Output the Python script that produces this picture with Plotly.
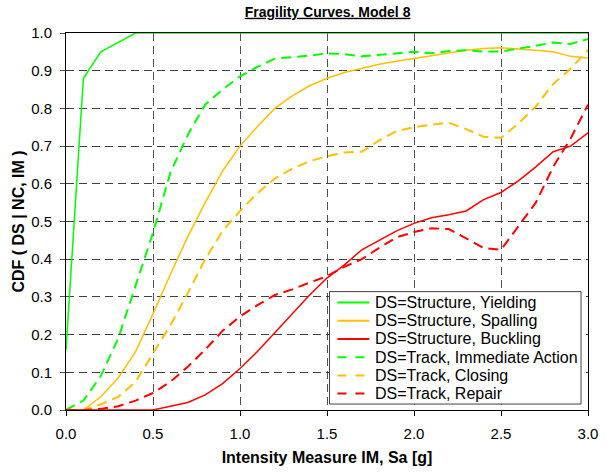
import plotly.graph_objects as go

im = [round(i * 0.1, 1) for i in range(31)]

yielding = [0.16, 0.88, 0.95, 0.975, 1.0] + [1.0] * 26
spalling = [0.0, 0.0, 0.035, 0.085, 0.155, 0.255, 0.36, 0.46, 0.55, 0.634,
            0.70, 0.752, 0.80, 0.833, 0.86, 0.88, 0.895, 0.907, 0.917, 0.925,
            0.933, 0.94, 0.947, 0.954, 0.959, 0.961, 0.958, 0.954, 0.95, 0.938, 0.934]
buckling = [0.0, 0.0, 0.0, 0.0, 0.0, 0.0, 0.01, 0.02, 0.04, 0.07,
            0.11, 0.155, 0.205, 0.255, 0.305, 0.35, 0.385, 0.425, 0.45, 0.475,
            0.495, 0.51, 0.518, 0.528, 0.558, 0.577, 0.608, 0.645, 0.685, 0.70, 0.735]
immediate = [0.0, 0.025, 0.09, 0.19, 0.33, 0.47, 0.63, 0.73, 0.81, 0.85,
             0.885, 0.91, 0.932, 0.935, 0.94, 0.946, 0.944, 0.938, 0.942, 0.946,
             0.95, 0.946, 0.952, 0.954, 0.951, 0.951, 0.958, 0.966, 0.975, 0.971, 0.984]
closing = [0.0, 0.0, 0.015, 0.035, 0.075, 0.15, 0.225, 0.31, 0.40, 0.475,
           0.528, 0.575, 0.614, 0.64, 0.66, 0.673, 0.683, 0.685, 0.715, 0.74,
           0.75, 0.757, 0.762, 0.745, 0.725, 0.722, 0.76, 0.805, 0.865, 0.905, 0.955]
repair = [0.0, 0.0, 0.003, 0.01, 0.025, 0.045, 0.075, 0.115, 0.16, 0.21,
          0.248, 0.278, 0.305, 0.32, 0.338, 0.355, 0.38, 0.40, 0.43, 0.458,
          0.472, 0.482, 0.48, 0.456, 0.43, 0.425, 0.487, 0.55, 0.645, 0.72, 0.81]

series = [
    ("DS=Structure, Yielding", yielding, "#00FF00", "solid", 1.5),
    ("DS=Structure, Spalling", spalling, "#FFC000", "solid", 1.5),
    ("DS=Structure, Buckling", buckling, "#FF0000", "solid", 1.5),
    ("DS=Track, Immediate Action", immediate, "#00FF00", "10px,6px", 2),
    ("DS=Track, Closing", closing, "#FFC000", "10px,6px", 2),
    ("DS=Track, Repair", repair, "#FF0000", "10px,6px", 2),
]

FONT = "Arial, Liberation Sans, sans-serif"
W, H = 610, 475
ML, MR, MT, MB = 66, 19, 33, 63
PW, PH = W - ML - MR, H - MT - MB


def px_x(p):
    return (p - ML) / PW


def px_y(p):
    return (H - MB - p) / PH


fig = go.Figure()
for name, vals, color, dash, w in series:
    fig.add_trace(go.Scatter(x=im, y=vals, mode="lines", name=name,
                             line=dict(color=color, dash=dash, width=w),
                             cliponaxis=False, showlegend=False))

# legend box (drawn as layout shapes / annotations to match the compact rows)
shapes = [dict(type="rect", xref="paper", yref="paper",
               x0=px_x(331), x1=px_x(584), y0=px_y(406), y1=px_y(293),
               line=dict(color="#404040", width=1), fillcolor="white", layer="above")]
annotations = []
row_y0, row_step = 304, 18.3
for i, (name, vals, color, dash, w) in enumerate(series):
    yy = px_y(row_y0 + i * row_step)
    shapes.append(dict(type="line", xref="paper", yref="paper",
                       x0=px_x(339), x1=px_x(371), y0=yy, y1=yy,
                       line=dict(color=color, width=2, dash="dash" if dash != "solid" else "solid"),
                       layer="above"))
    annotations.append(dict(text=name, xref="paper", yref="paper", x=px_x(375), y=yy,
                            xanchor="left", yanchor="middle", showarrow=False,
                            font=dict(size=16, family=FONT, color="black")))

fig.update_layout(
    width=W, height=H,
    margin=dict(l=ML, r=MR, t=MT, b=MB),
    paper_bgcolor="white", plot_bgcolor="white",
    font=dict(family=FONT, size=15, color="black"),
    title=dict(text="<b><u>Fragility Curves. Model 8</u></b>", x=0.537, xanchor="center",
               y=0.975, yanchor="middle", font=dict(size=14)),
    showlegend=False,
    shapes=shapes,
    annotations=annotations,
)
fig.update_xaxes(range=[0, 3], dtick=0.5, tick0=0, tickformat=".1f",
                 showline=True, linecolor="black", linewidth=1, mirror=True,
                 ticks="outside", ticklen=5, tickcolor="black", ticklabelstandoff=5,
                 tickfont=dict(size=15),
                 showgrid=True, gridcolor="#505050", gridwidth=1, griddash="8px,5px",
                 zeroline=False,
                 title=dict(text="<b>Intensity Measure IM, Sa [g]</b>", font=dict(size=16), standoff=10))
fig.update_yaxes(range=[0, 1], dtick=0.1, tick0=0, tickformat=".1f",
                 showline=True, linecolor="black", linewidth=1, mirror=True,
                 ticks="outside", ticklen=5, tickcolor="#505050", ticklabelstandoff=5,
                 tickfont=dict(size=15),
                 showgrid=True, gridcolor="#404040", gridwidth=1, griddash="8px,5px",
                 zeroline=False,
                 title=dict(text="<b>CDF ( DS | NC, IM )</b>", font=dict(size=16), standoff=2))

fig.write_html("out.html")
